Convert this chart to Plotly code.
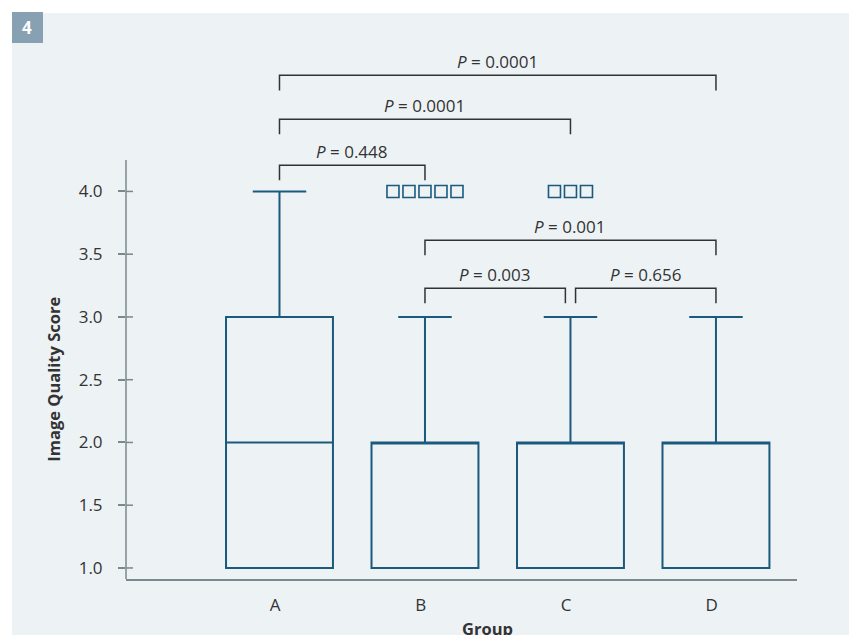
import plotly.graph_objects as go

# ---------------- data ----------------
groups = ["A", "B", "C", "D"]
q1 = [1.0, 1.0, 1.0, 1.0]
median = [2.0, 2.0, 2.0, 2.0]
q3 = [3.0, 2.0, 2.0, 2.0]
lower_fence = [1.0, 1.0, 1.0, 1.0]
upper_fence = [4.0, 3.0, 3.0, 3.0]
outlier_value = [None, 4.0, 4.0, None]
outlier_count = [0, 5, 3, 0]

y_ticks = [1.0, 1.5, 2.0, 2.5, 3.0, 3.5, 4.0]
y_tick_text = ["1.0", "1.5", "2.0", "2.5", "3.0", "3.5", "4.0"]

# comparisons: (group i, group j, bracket level, label)
comparisons = [
    (0, 3, 4.925, "0.0001"),
    (0, 2, 4.575, "0.0001"),
    (0, 1, 4.209, "0.448"),
    (1, 3, 3.611, "0.001"),
    (1, 2, 3.229, "0.003"),
    (2, 3, 3.229, "0.656"),
]

# ---------------- style / layout ----------------
OFF = 8  # page body margin
W, H = 857 - OFF, 635 - OFF
ML, MR, MT, MB = 126 - OFF, 60, 50 - OFF, 56
PW, PH = W - ML - MR, H - MT - MB
XR = [-1.055, 3.557]
YR = [0.912, 5.127]
BOX_COLOR = "#1b5a7c"
TEXT = "#333333"
AXIS = "#7d878e"
PANEL = "#edf2f5"
BADGE = "#87a1b3"
FONT = "Open Sans"
FS = 17
y_axis_top = 4.25
leg_len = 0.12
outlier_step = 0.11
bracket_gap = 0.035


def px_x(px):  # reference-pixel x -> paper
    return (px - OFF - ML) / PW


def px_y(py):  # reference-pixel y -> paper
    return (H - MB - (py - OFF)) / PH


xpos = list(range(len(groups)))

fig = go.Figure()

fig.add_trace(go.Box(
    x=xpos, q1=q1, median=median, q3=q3,
    lowerfence=lower_fence, upperfence=upper_fence,
    width=0.735, whiskerwidth=0.5,
    line=dict(color=BOX_COLOR, width=2),
    fillcolor="rgba(0,0,0,0)",
    boxpoints=False, showlegend=False, hoverinfo="skip",
))

ox, oy = [], []
for i, (v, n) in enumerate(zip(outlier_value, outlier_count)):
    for k in range(n):
        ox.append(i + (k - (n - 1) / 2) * outlier_step)
        oy.append(v)
fig.add_trace(go.Scatter(
    x=ox, y=oy, mode="markers",
    marker=dict(symbol="square-open", size=12, color=BOX_COLOR,
                line=dict(width=1.6, color=BOX_COLOR)),
    showlegend=False, hoverinfo="skip",
))

shapes = []
# panel background
shapes.append(dict(type="rect", xref="paper", yref="paper",
                   x0=px_x(12), x1=px_x(W + 40), y0=px_y(H + 40), y1=px_y(13),
                   fillcolor=PANEL, line=dict(width=0), layer="below"))
# badge
shapes.append(dict(type="rect", xref="paper", yref="paper",
                   x0=px_x(12), x1=px_x(43), y0=px_y(43), y1=px_y(12),
                   fillcolor=BADGE, line=dict(width=0), layer="below"))
# y axis line
shapes.append(dict(type="line", xref="paper", yref="y",
                   x0=0, x1=0, y0=YR[0], y1=y_axis_top,
                   line=dict(color=AXIS, width=1.5)))
# inside part of y ticks
for t in y_ticks:
    shapes.append(dict(type="line", xref="paper", yref="y",
                       x0=0, x1=7 / PW, y0=t, y1=t,
                       line=dict(color=AXIS, width=1.5)))

annotations = []
# brackets
for (i, j, lvl, lab) in comparisons:
    left, right = float(i), float(j)
    for (a, b, l2, _) in comparisons:
        if l2 == lvl and (a, b) != (i, j):
            if b == i:
                left += bracket_gap
            if a == j:
                right -= bracket_gap
    shapes.append(dict(type="path", xref="x", yref="y",
                       path=f"M {left},{lvl - leg_len} L {left},{lvl} L {right},{lvl} L {right},{lvl - leg_len}",
                       line=dict(color=TEXT, width=1.5)))
    annotations.append(dict(x=(left + right) / 2, y=lvl, xref="x", yref="y",
                            text=f"<i>P</i> = {lab}", showarrow=False,
                            yanchor="bottom", yshift=0,
                            font=dict(family=FONT, size=FS, color=TEXT)))

annotations.append(dict(xref="paper", yref="y", x=px_x(54), y=(y_ticks[0] + y_ticks[-1]) / 2,
                        text="<b>Image Quality Score</b>", textangle=-90, showarrow=False,
                        xanchor="center", yanchor="middle",
                        font=dict(family=FONT, size=16.5, color=TEXT)))
annotations.append(dict(xref="paper", yref="paper", x=px_x(487), y=px_y(628),
                        text="<b>Group</b>", showarrow=False,
                        xanchor="center", yanchor="middle",
                        font=dict(family=FONT, size=16.5, color=TEXT)))
annotations.append(dict(xref="paper", yref="paper", x=px_x(27.5), y=px_y(27.5),
                        text="<b>4</b>", showarrow=False,
                        xanchor="center", yanchor="middle",
                        font=dict(family=FONT, size=17, color="white")))

fig.update_layout(
    width=W, height=H, autosize=False,
    margin=dict(l=ML, r=MR, t=MT, b=MB, pad=0),
    paper_bgcolor="white", plot_bgcolor="rgba(0,0,0,0)",
    shapes=shapes, annotations=annotations,
    showlegend=False,
    font=dict(family=FONT, size=FS, color=TEXT),
    xaxis=dict(range=XR, tickmode="array", tickvals=[i - 0.03 for i in xpos],
               ticktext=groups, showgrid=False, zeroline=False,
               showline=True, linecolor=AXIS, linewidth=1.5, ticks="",
               ticklabelstandoff=10, tickfont=dict(family=FONT, size=FS, color=TEXT)),
    yaxis=dict(range=YR, tickmode="array", tickvals=y_ticks, ticktext=y_tick_text,
               showgrid=False, zeroline=False, showline=False,
               ticks="outside", ticklen=7, tickwidth=1.5, tickcolor=AXIS,
               ticklabelstandoff=12, tickfont=dict(family=FONT, size=FS, color=TEXT)),
)

fig.write_html("out.html")
